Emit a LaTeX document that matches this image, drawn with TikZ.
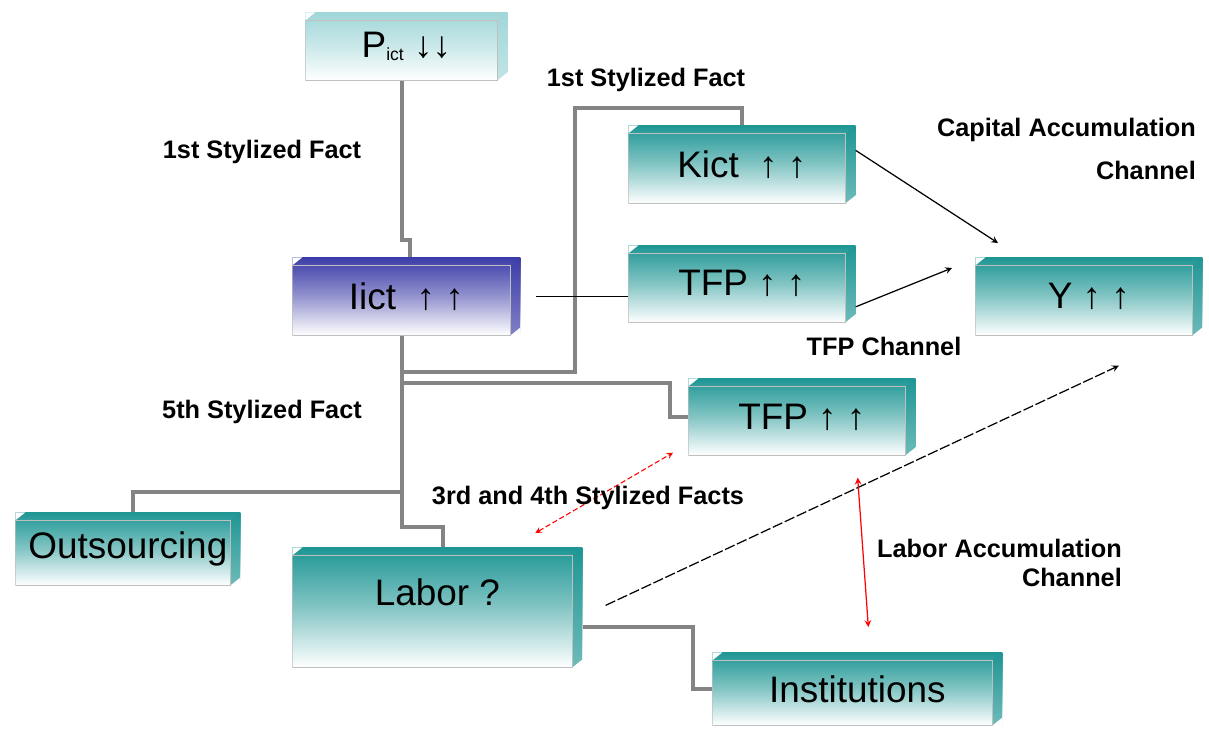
\documentclass[tikz,border=0pt]{standalone}
\usepackage{fontspec}
\setmainfont{Liberation Sans}
\usetikzlibrary{arrows.meta, calc}

\definecolor{boxteal}{RGB}{30,150,148}
\definecolor{boxblue}{RGB}{60,60,168}
\definecolor{boxpale}{RGB}{160,214,216}
\definecolor{linkgray}{RGB}{132,132,132}

\tikzset{
    cube/.style={rectangle, inner sep=0pt, top color=#1, bottom color=white, middle color=#1!55!white,
        font=\fontsize{21}{25}\selectfont,
        path picture={
            \fill[white] (path picture bounding box.north west) -- ++(0.2cm,0cm) -- ++(-0.2cm,-0.16cm) -- cycle;
            \fill[white] (path picture bounding box.south east) -- ++(-0.2cm,0cm) -- ++(0.2cm,0.16cm) -- cycle;
            \shade[top color=#1, bottom color=#1!65!white] (path picture bounding box.north east) -- ([yshift=0.16cm]path picture bounding box.south east) -- ++(-0.2cm,-0.16cm) -- ([shift={(-0.2cm,-0.16cm)}]path picture bounding box.north east) -- cycle;
            \draw[black!25, line width=0.5pt] ([yshift=-0.16cm]path picture bounding box.north west) rectangle ([xshift=-0.2cm]path picture bounding box.south east);
        }},
    link/.style={draw=linkgray, line width=2.3pt},
    lbl/.style={font=\bfseries\fontsize{14.4}{17}\selectfont},
}

\begin{document}
\begin{tikzpicture}[x=0.02cm, y=-0.02cm]
    \fill[white] (0,0) rectangle (1209,728);
    \useasboundingbox (0,0) rectangle (1209,728);

    \node[cube=boxpale, minimum width=4.04cm, minimum height=1.36cm, anchor=north west] (pict) at (305,12) {P{\fontsize{10}{12}\selectfont\raisebox{-0.3ex}{ict}} ↓↓};
    \node[cube=boxblue, minimum width=4.56cm, minimum height=1.56cm, anchor=north west] (iict) at (292,257) {Iict\ \ ↑ ↑};
    \node[cube=boxteal, minimum width=4.54cm, minimum height=1.56cm, anchor=north west] (kict) at (628,125) {Kict\ \ ↑ ↑};
    \node[cube=boxteal, minimum width=4.54cm, minimum height=1.54cm, anchor=north west] (tfp1) at (628,245) {TFP ↑ ↑};
    \node[cube=boxteal, minimum width=4.54cm, minimum height=1.56cm, anchor=north west] (yout) at (975,257) {Y ↑ ↑};
    \node[cube=boxteal, minimum width=4.54cm, minimum height=1.54cm, anchor=north west] (tfp2) at (688,378) {TFP ↑ ↑};
    \node[cube=boxteal, minimum width=4.5cm, minimum height=1.46cm, anchor=north west] (outs) at (15,512) {Outsourcing};
    \node[cube=boxteal, minimum width=5.8cm, minimum height=2.4cm, text depth=0.6cm, anchor=north west] (labor) at (292,547) {Labor ?};
    \node[cube=boxteal, minimum width=5.8cm, minimum height=1.46cm, anchor=north west] (inst) at (712,652) {Institutions};

    \draw[link] ([xshift=-0.08cm]pict.south) |- (410,240) -- (iict.north -| 410,240);
    \draw[link] ([xshift=-0.08cm]iict.south) |- (443,527) -- (labor.north -| 443,527);
    \draw[link] (402,372) -| (575,108) -| (kict.north);
    \draw[link] (402,383) -| ([xshift=-0.36cm]tfp2.west) -- (tfp2.west);
    \draw[link] (402,492) -| ([xshift=0.1cm]outs.north);
    \draw[link] ([yshift=-0.4cm]labor.east) -| ([xshift=-0.38cm]inst.west) -- (inst.west);

    \draw[line width=0.8pt] ([xshift=0.3cm]iict.east) -- (tfp1.west |- iict.east);
    \draw[->, >=stealth, line width=0.7pt] ([yshift=0.28cm]kict.east) -- ([shift={(0.46cm,0.28cm)}]yout.north west);
    \draw[->, >=stealth, line width=0.7pt] ([yshift=-0.46cm]tfp1.east) -- ([shift={(-0.46cm,-0.22cm)}]yout.north west);
    \draw[->, >=stealth, line width=0.7pt, dash pattern=on 6pt off 1.5pt] ([shift={(0.46cm,0.04cm)}]labor.east) -- ([shift={(0.6cm,-0.6cm)}]yout.south);
    \draw[<->, >=stealth, color=red, line width=0.6pt, dash pattern=on 3pt off 1.5pt] ([shift={(1.96cm,0.28cm)}]labor.north) -- ([shift={(-0.3cm,0.06cm)}]tfp2.south west);
    \draw[<->, >=stealth, color=red, line width=0.7pt] ([shift={(-1.16cm,-0.44cm)}]tfp2.south east) -- ([shift={(0.22cm,0.5cm)}]inst.north);

    \node[lbl] (fact1) at (262,152) {1st Stylized Fact};
    \node[lbl] (fact1k) at (646,80) {1st Stylized Fact};
    \node[lbl, align=right, anchor=east] (capch) at (1202,149) {Capital Accumulation\\[7pt]Channel};
    \node[lbl] (tfpch) at (884,346) {TFP Channel};
    \node[lbl] (fact5) at (262,412) {5th Stylized Fact};
    \node[lbl] (fact34) at (588,498) {3rd and 4th Stylized Facts};
    \node[lbl, align=right, anchor=east] (labch) at (1128,563) {Labor Accumulation\\Channel};
\end{tikzpicture}
\end{document}
